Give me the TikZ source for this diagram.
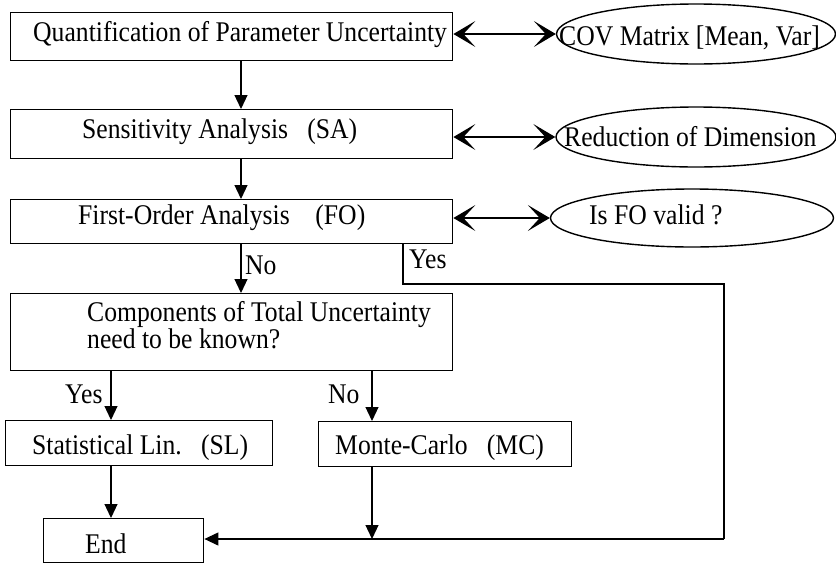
\documentclass[tikz,border=0pt]{standalone}
\usepackage{fontspec}
\setmainfont{Liberation Serif}[FakeStretch=0.9]
\usetikzlibrary{arrows.meta,shapes.geometric}
\begin{document}
\begin{tikzpicture}[x=1pt,y=-1pt,
  every node/.style={font=\fontsize{28.5}{29}\selectfont},
  frame/.style={draw, line width=1.4pt, rectangle, inner sep=0pt, anchor=north west},
  oval/.style={draw, line width=1.4pt, ellipse, inner sep=0pt},
  txt/.style={anchor=base west, inner sep=0pt},
  flow/.style={line width=1.2pt, -{Triangle[length=14pt,width=13pt]}},
  dbl/.style={line width=1.3pt, {Stealth[length=22pt,width=26pt,inset=12pt]}-{Stealth[length=22pt,width=26pt,inset=12pt]}},
  plain/.style={line width=1.2pt}]
\useasboundingbox (0,0) rectangle (836,563);
% boxes
\node[frame, minimum width=442pt, minimum height=48pt] (b1) at (10,12) {};
\node[frame, minimum width=442pt, minimum height=49pt] (b2) at (10,109) {};
\node[frame, minimum width=442pt, minimum height=44pt] (b3) at (10,199) {};
\node[frame, minimum width=442pt, minimum height=77pt] (b4) at (10,293) {};
\node[frame, minimum width=267pt, minimum height=45pt] (sl) at (5,420) {};
\node[frame, minimum width=253pt, minimum height=45pt] (mc) at (318,421) {};
\node[frame, minimum width=160pt, minimum height=44pt] (en) at (43,518) {};
% ellipses
\node[oval, minimum width=279pt, minimum height=60pt] (e1) at (696,34) {};
\node[oval, minimum width=280pt, minimum height=60pt] (e2) at (696,137) {};
\node[oval, minimum width=283pt, minimum height=58pt] (e3) at (692,218) {};
% texts
\node[txt] (t1) at (33,41) {Quantification of Parameter Uncertainty};
\node[txt] (te1) at (559,45) {COV Matrix [Mean, Var]};
\node[txt] (t2) at (82,138) {Sensitivity Analysis~~~(SA)};
\node[txt] (te2) at (564,146) {Reduction of Dimension};
\node[txt] (t3) at (78,224) {First-Order Analysis~~~~(FO)};
\node[txt] (te3) at (589,224) {Is FO valid ?};
\node[txt] (no1) at (245,274) {No};
\node[txt] (yes1) at (409,268) {Yes};
\node[txt] (t4a) at (87,321) {Components of Total Uncertainty};
\node[txt] (t4b) at (87,348) {need to be known?};
\node[txt] (yes2) at (65,403) {Yes};
\node[txt] (no2) at (328,403) {No};
\node[txt] (tsl) at (32,454) {Statistical Lin.~~~(SL)};
\node[txt] (tmc) at (335,454) {Monte-Carlo~~~(MC)};
\node[txt] (ten) at (85,553) {End};
% coordinates
\coordinate (c1) at (241,0);
\coordinate (c2) at (111,0);
\coordinate (c3) at (372,0);
\coordinate (y1) at (403,284);
\coordinate (y2) at (724,284);
\coordinate (y3) at (724,539);
% connectors
\draw[flow] (b1.south -| c1) -- (b2.north -| c1);
\draw[flow] (b2.south -| c1) -- (b3.north -| c1);
\draw[flow] (b3.south -| c1) -- (b4.north -| c1);
\draw[dbl] (e1.west -| b1.east) -- (e1.west);
\draw[dbl] (e2.west -| b2.east) -- (e2.west);
\draw[dbl] (e3.west -| b3.east) -- (e3.west);
\draw[plain] (b3.south -| y1) -- (y1) -- (y2) -- (y3);
\draw[flow] (y3) -- (en.east |- y3);
\draw[flow] (b4.south -| c2) -- (sl.north -| c2);
\draw[flow] (b4.south -| c3) -- (mc.north -| c3);
\draw[flow] (sl.south -| c2) -- (en.north -| c2);
\draw[flow] (mc.south -| c3) -- (y3 -| c3);
\end{tikzpicture}
\end{document}
